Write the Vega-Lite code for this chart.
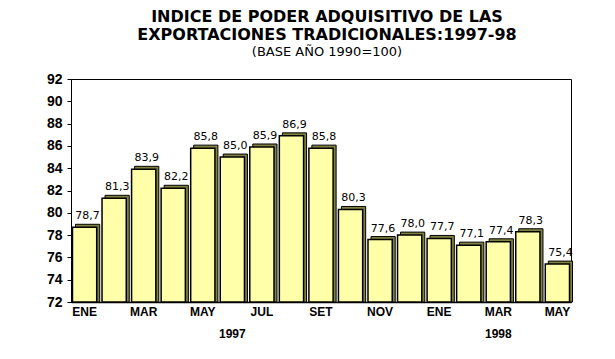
{
  "$schema": "https://vega.github.io/schema/vega-lite/v6.json",
  "width": 500,
  "height": 223,
  "autosize": {"type": "none"},
  "padding": {"left": 71, "top": 79, "right": 44, "bottom": 57},
  "background": "white",
  "title": {
    "text": ["INDICE DE PODER ADQUISITIVO DE LAS", "EXPORTACIONES TRADICIONALES:1997-98"],
    "subtitle": "(BASE AÑO 1990=100)",
    "font": "DejaVu Sans",
    "fontSize": 16,
    "fontWeight": "bold",
    "lineHeight": 18,
    "subtitleFont": "DejaVu Sans",
    "subtitleFontSize": 13,
    "subtitlePadding": 3,
    "offset": 13,
    "anchor": "middle",
    "dx": 6,
    "color": "black",
    "subtitleColor": "black"
  },
  "data": {
    "values": [
      {"n": 1, "mes": "ENE", "v": 78.7},
      {"n": 2, "mes": "FEB", "v": 81.3},
      {"n": 3, "mes": "MAR", "v": 83.9},
      {"n": 4, "mes": "ABR", "v": 82.2},
      {"n": 5, "mes": "MAY", "v": 85.8},
      {"n": 6, "mes": "JUN", "v": 85.0},
      {"n": 7, "mes": "JUL", "v": 85.9},
      {"n": 8, "mes": "AGO", "v": 86.9},
      {"n": 9, "mes": "SET", "v": 85.8},
      {"n": 10, "mes": "OCT", "v": 80.3},
      {"n": 11, "mes": "NOV", "v": 77.6},
      {"n": 12, "mes": "DIC", "v": 78.0},
      {"n": 13, "mes": "ENE", "v": 77.7},
      {"n": 14, "mes": "FEB", "v": 77.1},
      {"n": 15, "mes": "MAR", "v": 77.4},
      {"n": 16, "mes": "ABR", "v": 78.3},
      {"n": 17, "mes": "MAY", "v": 75.4}
    ]
  },
  "encoding": {
    "x": {
      "field": "n",
      "type": "ordinal",
      "scale": {"paddingInner": 0.18, "paddingOuter": 0.05},
      "axis": {
        "title": null,
        "labelAngle": 0,
        "labelExpr": "datum.value == 6 ? ['\u00a0', '1997'] : datum.value == 15 ? ['MAR', '1998'] : (datum.value % 2 == 1 ? ['ENE','FEB','MAR','ABR','MAY','JUN','JUL','AGO','SET','OCT','NOV','DIC','ENE','FEB','MAR','ABR','MAY'][datum.value - 1] : '')",
        "labelFont": "Liberation Sans",
        "labelFontWeight": "bold",
        "labelFontSize": 12,
        "labelColor": "black",
        "labelLineHeight": 22,
        "labelPadding": 4,
        "labelOverlap": false,
        "ticks": false,
        "domainColor": "black",
        "domainWidth": 1.5
      }
    },
    "y": {
      "field": "v",
      "type": "quantitative",
      "scale": {"domain": [72, 92], "zero": false, "nice": false},
      "axis": {
        "title": null,
        "values": [72, 74, 76, 78, 80, 82, 84, 86, 88, 90, 92],
        "grid": false,
        "labelFont": "Liberation Sans",
        "labelFontWeight": "bold",
        "labelFontSize": 14,
        "labelColor": "black",
        "labelPadding": 5,
        "labelOverlap": false,
        "labelFlush": false,
        "tickSize": 4,
        "tickColor": "black",
        "domainColor": "black",
        "domainWidth": 1
      }
    }
  },
  "layer": [
    {
      "mark": {"type": "bar", "color": "#808040", "stroke": "black", "strokeWidth": 1, "xOffset": 3, "yOffset": -3, "y2Offset": 0},
      "encoding": {"y2": {"datum": 72}}
    },
    {
      "mark": {"type": "bar", "color": "#FFFFAA", "stroke": "black", "strokeWidth": 1.5},
      "encoding": {"y2": {"datum": 72}}
    },
    {
      "mark": {"type": "text", "font": "DejaVu Sans", "fontSize": 11, "baseline": "bottom", "dy": -6, "dx": 3, "color": "black"},
      "encoding": {
        "text": {"field": "v", "type": "quantitative", "format": ".1f"}
      }
    }
  ],
  "config": {
    "view": {"stroke": "black", "strokeWidth": 1},
    "locale": {"number": {"decimal": ",", "thousands": ".", "grouping": [3], "currency": ["", ""]}}
  }
}
